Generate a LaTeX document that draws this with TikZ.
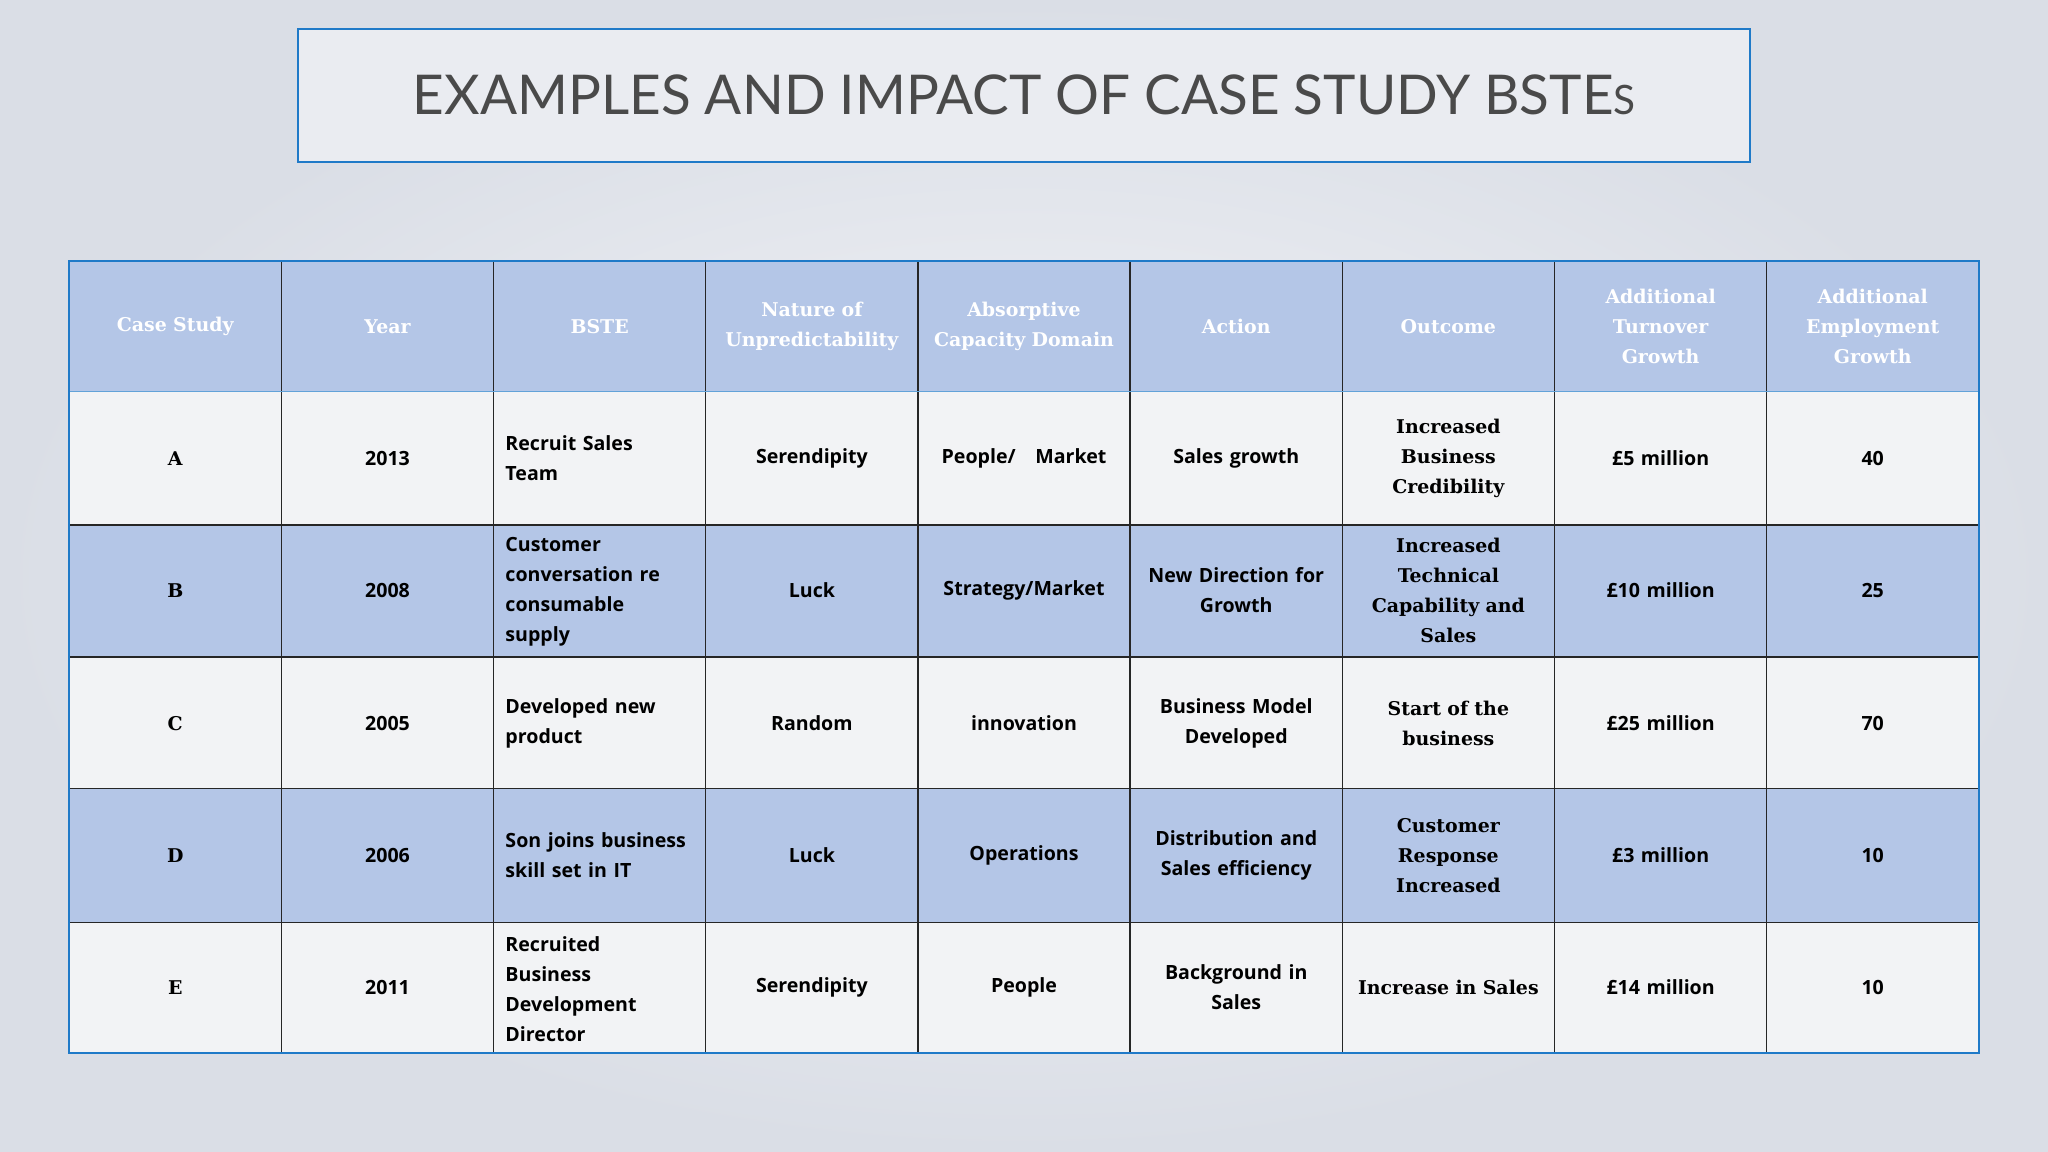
\documentclass[tikz,border=0pt]{standalone}
\usepackage{fontspec}
\setmainfont{Open Sans}
\newfontfamily\serifb{DejaVu Serif}
\newfontfamily\titlef{Lato}
\definecolor{hdr}{HTML}{B4C6E7}
\definecolor{rowb}{HTML}{B4C6E7}
\definecolor{rowa}{HTML}{F2F3F5}
\definecolor{bord}{HTML}{1F7AC8}
\definecolor{ttl}{HTML}{4A4A4A}
\definecolor{bgin}{HTML}{F4F5F8}
\definecolor{bgout}{HTML}{DADEE6}
\tikzset{
 cell/.style={anchor=center,align=center,text width=150pt,inner sep=0pt,font=\fontsize{15}{23}\selectfont\bfseries,text=black},
 lcell/.style={cell,align=left},
 scell/.style={cell,font=\fontsize{14.5}{23}\selectfont\serifb\bfseries},
 hcell/.style={cell,text=white,font=\fontsize{14.5}{23}\selectfont\serifb\bfseries},
}
\begin{document}
\begin{tikzpicture}[x=1pt,y=-1pt]
\useasboundingbox (0,0) rectangle (1568,882);
\shade[inner color=bgin,outer color=bgout] (0,0) rectangle (1568,882);
\node[draw=bord,line width=1.5pt,fill=bgin!60!bgout,minimum width=1112pt,minimum height=102pt,inner sep=0pt] (title) at (784,73)
 {\titlef\fontsize{42}{50}\selectfont\color{ttl}EXAMPLES AND IMPACT OF CASE STUDY BSTE\raisebox{0pt}{\fontsize{31}{40}\selectfont S}};
% fills
\fill[hdr] (53,200) rectangle (1515,300);
\fill[rowa] (53,300) rectangle (1515,402);
\fill[rowb] (53,402) rectangle (1515,503);
\fill[rowa] (53,503) rectangle (1515,604);
\fill[rowb] (53,604) rectangle (1515,706);
\fill[rowa] (53,706) rectangle (1515,806);
% grid
\foreach \x in {215.4,377.9,540.3,702.8,865.2,1027.7,1190.1,1352.6}
  \draw[black!85,line width=0.9pt] (\x,200) -- (\x,806);
\foreach \y in {402,503,604,706}
  \draw[black!85,line width=0.9pt] (53,\y) -- (1515,\y);
\draw[bord!70,line width=0.9pt] (53,300) -- (1515,300);
\draw[bord,line width=1.5pt] (53,200) rectangle (1515,806);
% header
\node[hcell] (h1) at (134.2,250) {Case Study};
\node[hcell] (h2) at (296.7,250) {Year};
\node[hcell] (h3) at (459.1,250) {BSTE};
\node[hcell] (h4) at (621.6,250) {Nature of\\Unpredictability};
\node[hcell] (h5) at (784.0,250) {Absorptive\\Capacity Domain};
\node[hcell] (h6) at (946.5,250) {Action};
\node[hcell] (h7) at (1108.9,250) {Outcome};
\node[hcell] (h8) at (1271.4,250) {Additional\\Turnover\\Growth};
\node[hcell] (h9) at (1433.8,250) {Additional\\Employment\\Growth};
% row A
\node[scell] (a1) at (134.2,351) {A};
\node[cell] (a2) at (296.7,351) {2013};
\node[lcell] (a3) at (462,351) {Recruit Sales\\Team};
\node[cell] (a4) at (621.6,351) {Serendipity};
\node[cell] (a5) at (784.0,351) {People/\ \ \ Market};
\node[cell] (a6) at (946.5,351) {Sales growth};
\node[scell] (a7) at (1108.9,351) {Increased\\Business\\Credibility};
\node[cell] (a8) at (1271.4,351) {£5 million};
\node[cell] (a9) at (1433.8,351) {40};
% row B
\node[scell] (b1) at (134.2,452) {B};
\node[cell] (b2) at (296.7,452) {2008};
\node[lcell] (b3) at (462,453) {Customer\\conversation re\\consumable\\supply};
\node[cell] (b4) at (621.6,452) {Luck};
\node[cell] (b5) at (784.0,452) {Strategy/Market};
\node[cell] (b6) at (946.5,452) {New Direction for\\Growth};
\node[scell] (b7) at (1108.9,452) {Increased\\Technical\\Capability and\\Sales};
\node[cell] (b8) at (1271.4,452) {£10 million};
\node[cell] (b9) at (1433.8,452) {25};
% row C
\node[scell] (c1) at (134.2,554) {C};
\node[cell] (c2) at (296.7,554) {2005};
\node[lcell] (c3) at (462,554) {Developed new\\product};
\node[cell] (c4) at (621.6,554) {Random};
\node[cell] (c5) at (784.0,554) {innovation};
\node[cell] (c6) at (946.5,554) {Business Model\\Developed};
\node[scell] (c7) at (1108.9,554) {Start of the\\business};
\node[cell] (c8) at (1271.4,554) {£25 million};
\node[cell] (c9) at (1433.8,554) {70};
% row D
\node[scell] (d1) at (134.2,655) {D};
\node[cell] (d2) at (296.7,655) {2006};
\node[lcell] (d3) at (462,655) {Son joins business\\skill set in IT};
\node[cell] (d4) at (621.6,655) {Luck};
\node[cell] (d5) at (784.0,655) {Operations};
\node[cell] (d6) at (946.5,655) {Distribution and\\Sales efficiency};
\node[scell] (d7) at (1108.9,655) {Customer\\Response\\Increased};
\node[cell] (d8) at (1271.4,655) {£3 million};
\node[cell] (d9) at (1433.8,655) {10};
% row E
\node[scell] (e1) at (134.2,756) {E};
\node[cell] (e2) at (296.7,756) {2011};
\node[lcell] (e3) at (462,757) {Recruited\\Business\\Development\\Director};
\node[cell] (e4) at (621.6,756) {Serendipity};
\node[cell] (e5) at (784.0,756) {People};
\node[cell] (e6) at (946.5,756) {Background in\\Sales};
\node[scell] (e7) at (1108.9,756) {Increase in Sales};
\node[cell] (e8) at (1271.4,756) {£14 million};
\node[cell] (e9) at (1433.8,756) {10};
\end{tikzpicture}
\end{document}
